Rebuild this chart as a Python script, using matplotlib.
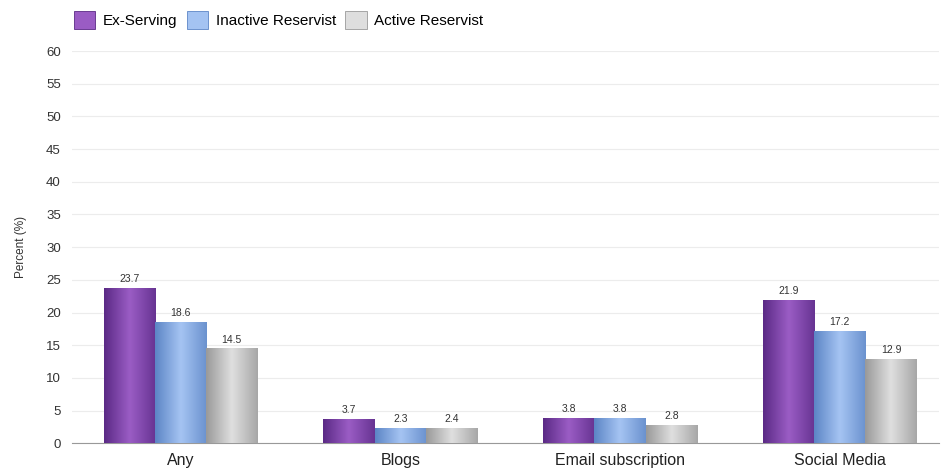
import numpy as np
import matplotlib
matplotlib.use("Agg")
import matplotlib.pyplot as plt
from matplotlib.colors import LinearSegmentedColormap
from matplotlib.patches import Patch

plt.rcParams['font.family'] = ['Liberation Sans', 'DejaVu Sans']

categories = ["Any", "Blogs", "Email subscription", "Social Media"]
series_names = ["Ex-Serving", "Inactive Reservist", "Active Reservist"]
ex_serving = [23.7, 3.7, 3.8, 21.9]
inactive = [18.6, 2.3, 3.8, 17.2]
active = [14.5, 2.4, 2.8, 12.9]
yticks = list(range(0, 65, 5))

# (edge, middle) colours for the horizontal gradient on each series
shades = [("#5b2a86", "#9a5cc4"), ("#5d86c6", "#a4c3f2"), ("#9a9a9a", "#dedede")]

fig = plt.figure(figsize=(9.42, 4.69), dpi=100)
ax = fig.add_axes([0.0764, 0.055, 0.92, 0.836])

x = np.arange(len(categories))
width = 0.2333
grad = np.array([np.concatenate([np.linspace(0, 1, 30), np.linspace(1, 0.2, 30)])])

for i, (vals, name) in enumerate(zip([ex_serving, inactive, active], series_names)):
    cmap = LinearSegmentedColormap.from_list(name, [shades[i][0], shades[i][1]])
    bars = ax.bar(x + (i - 1) * width, vals, width, color=shades[i][1], zorder=2)
    for b, v in zip(bars, vals):
        x0, w = b.get_x(), b.get_width()
        im = ax.imshow(grad, cmap=cmap, aspect="auto", extent=[x0, x0 + w, 0, v],
                       zorder=3, vmin=0, vmax=1)
        im.set_clip_path(b)
        ax.text(x0 + w / 2, v + 0.6, f"{v}", ha="center", va="bottom",
                fontsize=7.5, color="#333333")

ax.set_xlim(-0.494, 3.45)
ax.set_ylim(0, 60)
ax.set_yticks(yticks)
ax.set_xticks(x)
ax.set_xticklabels(categories, fontsize=11.5, color="#222222")
ax.tick_params(axis="y", labelsize=9.5, colors="#333333", length=0, pad=8)
ax.tick_params(axis="x", length=0, pad=7)
ax.set_ylabel("Percent (%)", fontsize=8.5, color="#333333", labelpad=14)
ax.yaxis.grid(True, color="#ececec", linewidth=0.8, zorder=0)
ax.set_axisbelow(True)
for s in ["top", "right", "left"]:
    ax.spines[s].set_visible(False)
ax.spines["bottom"].set_color("#999999")

handles = [Patch(facecolor=shades[i][1], edgecolor=shades[i][0], linewidth=0.6)
           for i in range(3)]
fig.legend(handles, series_names, loc="upper left", bbox_to_anchor=(0.064, 1.005),
           ncol=3, frameon=False, fontsize=11, handlelength=1.4, handleheight=1.4,
           columnspacing=0.6, handletextpad=0.5)

fig.savefig("out.png", dpi=100, facecolor="white")
